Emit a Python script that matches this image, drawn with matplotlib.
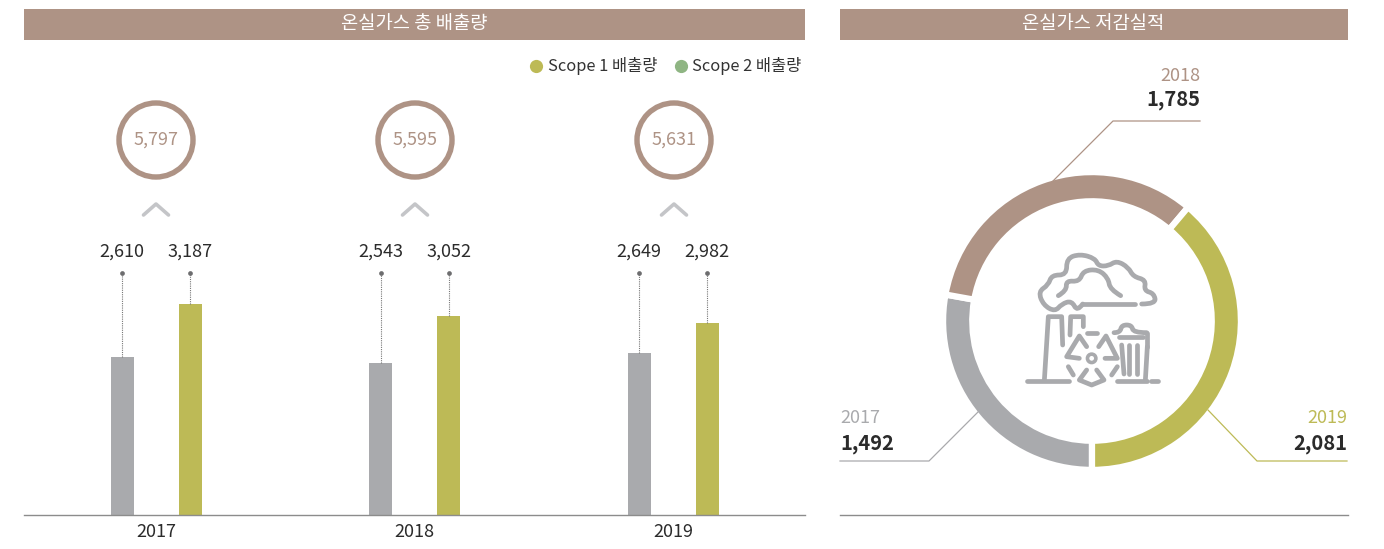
import numpy as np
import matplotlib
matplotlib.use("Agg")
import matplotlib.pyplot as plt
from matplotlib.patches import Rectangle, Circle, PathPatch
from matplotlib.path import Path

plt.rcParams['font.family'] = ['Noto Sans CJK KR', 'DejaVu Sans']

W, H = 1384, 549
TAN = "#ae9385"
OLIVE = "#bdba56"
GREEN = "#8fb583"
GREY = "#a9aaad"
DARK = "#2b2b2b"

years = ["2017", "2018", "2019"]
scope_grey = [2610, 2543, 2649]
scope_olive = [3187, 3052, 2982]
totals = ["5,797", "5,595", "5,631"]
reduction = [1492, 1785, 2081]
reduction_colors = [GREY, TAN, OLIVE]

fig = plt.figure(figsize=(W / 100, H / 100), dpi=100)

def px_axes(x0, y0, x1, y1, **kw):
    return fig.add_axes([x0 / W, 1 - y1 / H, (x1 - x0) / W, (y1 - y0) / H], **kw)

# bars, the value axis does not start at zero
ax = px_axes(24, 0, 805, 515)
step = 258.5
ax.set_xlim(-(156 - 24) / step, (805 - 156) / step)
ax.set_ylim(891, 891 + 515 / 0.0919)
x = np.arange(len(years))
off = 34 / step
ax.bar(x - off, scope_grey, 23 / step, color=GREY)
ax.bar(x + off, scope_olive, 23 / step, color=OLIVE)
for s in ["top", "left", "right"]:
    ax.spines[s].set_visible(False)
ax.spines["bottom"].set_color("#8c8c8c")
ax.spines["bottom"].set_linewidth(1)
ax.set_yticks([])
ax.set_xticks(x, years, fontsize=13, color=DARK)
ax.tick_params(axis="x", length=0, pad=6)
ax.patch.set_alpha(0)

# leader lines from the bar tops to the dots
for i in range(len(years)):
    for xx, v in [(x[i] - off, scope_grey[i]), (x[i] + off, scope_olive[i])]:
        top = 891 + (515 - 273) / 0.0919
        ax.plot([xx, xx], [v, top], color="#777777", lw=0.8, ls=(0, (1, 1)))
        ax.plot([xx], [top], "o", color="#6d6d6f", ms=3.4, mew=0, clip_on=False)
        ax.text(xx, top + 21 / 0.0919, f"{v:,}", ha="center", va="center",
                fontsize=13, color=DARK)

# donut
ax2 = px_axes(1092 - 148, 321 - 148, 1092 + 148, 321 + 148)
ax2.pie(reduction, colors=reduction_colors, startangle=-90, counterclock=False, radius=1.02,
        wedgeprops=dict(width=0.2, edgecolor="white", linewidth=4.5))
ax2.set_xlim(-148 / 146, 148 / 146)
ax2.set_ylim(-148 / 146, 148 / 146)

# everything else sits on a pixel overlay
ov = px_axes(0, 0, W, H)
ov.set_xlim(0, W)
ov.set_ylim(H, 0)
ov.axis("off")
ov.patch.set_alpha(0)

ov.add_patch(Rectangle((24, 9), 781, 31, color=TAN, lw=0))
ov.add_patch(Rectangle((840, 9), 508, 31, color=TAN, lw=0))
ov.text(414.5, 24, "온실가스 총 배출량", ha="center", va="center", fontsize=13.5, color="white")
ov.text(1093.5, 24, "온실가스 저감실적", ha="center", va="center", fontsize=13.5, color="white")

ov.plot([536], [65.5], "o", color=OLIVE, ms=9.5, mew=0)
ov.plot([681], [65.5], "o", color=GREEN, ms=9.5, mew=0)
ov.text(547.5, 66, "Scope 1 배출량", ha="left", va="center", fontsize=11.8, color="#333333")
ov.text(692.5, 66, "Scope 2 배출량", ha="left", va="center", fontsize=11.8, color="#333333")

for cx, t in zip([156, 415, 674], totals):
    ov.add_patch(Circle((cx, 140), 37, fc="none", ec=TAN, lw=3.9))
    ov.text(cx, 139.5, t, ha="center", va="center", fontsize=13, color=TAN)
    ov.plot([cx - 12.5, cx, cx + 12.5], [215, 204, 215], color="#c4c5c8", lw=2.6,
            solid_joinstyle="round", solid_capstyle="round")

# donut callouts
ov.plot([1200, 1113, 1052], [121, 121, 182], color=TAN, lw=0.9)
ov.plot([1347, 1257, 1208], [461, 461, 410], color=OLIVE, lw=0.9)
ov.plot([840, 929, 980], [461, 461, 410], color=GREY, lw=0.9)
ov.text(1200, 76, years[1], ha="right", va="center", fontsize=13, color=TAN)
ov.text(1200, 100, f"{reduction[1]:,}", ha="right", va="center", fontsize=14.5, weight="bold", color=DARK)
ov.text(1347, 418, years[2], ha="right", va="center", fontsize=13, color=OLIVE)
ov.text(1347, 444, f"{reduction[2]:,}", ha="right", va="center", fontsize=14.5, weight="bold", color=DARK)
ov.text(840, 418, years[0], ha="left", va="center", fontsize=13, color=GREY)
ov.text(840, 444, f"{reduction[0]:,}", ha="left", va="center", fontsize=14.5, weight="bold", color=DARK)

# icon in the middle of the donut, traced in 3x crop coordinates
def smooth(ax_, pts, lw=3.4):
    p = np.array(pts, float) / 3 + [1000, 230]
    verts = [p[0]]
    codes = [Path.MOVETO]
    for i in range(1, len(p) - 1):
        end = p[-1] if i == len(p) - 2 else (p[i] + p[i + 1]) / 2
        verts += [p[i], end]
        codes += [Path.CURVE3, Path.CURVE3]
    ax_.add_patch(PathPatch(Path(verts, codes), fc="none", ec=GREY, lw=lw, capstyle="round", joinstyle="round"))

def poly(ax_, pts, lw=3.4):
    p = np.array(pts, float) / 3 + [1000, 230]
    ax_.plot(p[:, 0], p[:, 1], color=GREY, lw=lw, solid_capstyle="round", solid_joinstyle="round")

smooth(ov, [(425, 222), (468, 222), (462, 190), (432, 182), (438, 150), (400, 140), (385, 112), (350, 92),
            (325, 108), (295, 108), (285, 85), (240, 72), (200, 85), (200, 135), (155, 135), (145, 165),
            (115, 185), (130, 225), (165, 245), (185, 222), (215, 212), (232, 245), (248, 222)])
poly(ov, [(248, 222), (405, 222)])
smooth(ov, [(175, 197), (200, 182), (198, 152), (238, 155), (250, 122), (295, 118), (325, 145), (330, 178), (362, 197)])
poly(ov, [(133, 452), (145, 260), (185, 260), (188, 345)])
poly(ov, [(210, 315), (212, 260), (250, 260), (250, 290)])
poly(ov, [(80, 452), (208, 452)])
poly(ov, [(350, 452), (440, 452)])
poly(ov, [(452, 452), (475, 452)])
poly(ov, [(262, 308), (292, 308)])
poly(ov, [(238, 385), (200, 380), (238, 318), (260, 350)])
poly(ov, [(315, 385), (352, 385), (318, 318), (296, 350)])
poly(ov, [(260, 420), (238, 450), (275, 465), (312, 450), (290, 420)])
poly(ov, [(205, 410), (220, 435)])
poly(ov, [(352, 410), (335, 435)])
ov.add_patch(Circle((275 / 3 + 1000, 385 / 3 + 230), 4.2, fc="none", ec=GREY, lw=2.6))
smooth(ov, [(342, 308), (360, 308), (365, 285), (395, 285), (400, 308), (440, 308)])
poly(ov, [(440, 308), (440, 350)])
poly(ov, [(358, 322), (430, 322)])
poly(ov, [(442, 350), (436, 452)])
poly(ov, [(365, 345), (372, 432)])
poly(ov, [(388, 345), (388, 432)])
poly(ov, [(412, 345), (412, 432)])

# bottom line under the donut
ov.plot([840, 1348], [515, 515], color="#8c8c8c", lw=1)

fig.savefig("out.png", dpi=100)
